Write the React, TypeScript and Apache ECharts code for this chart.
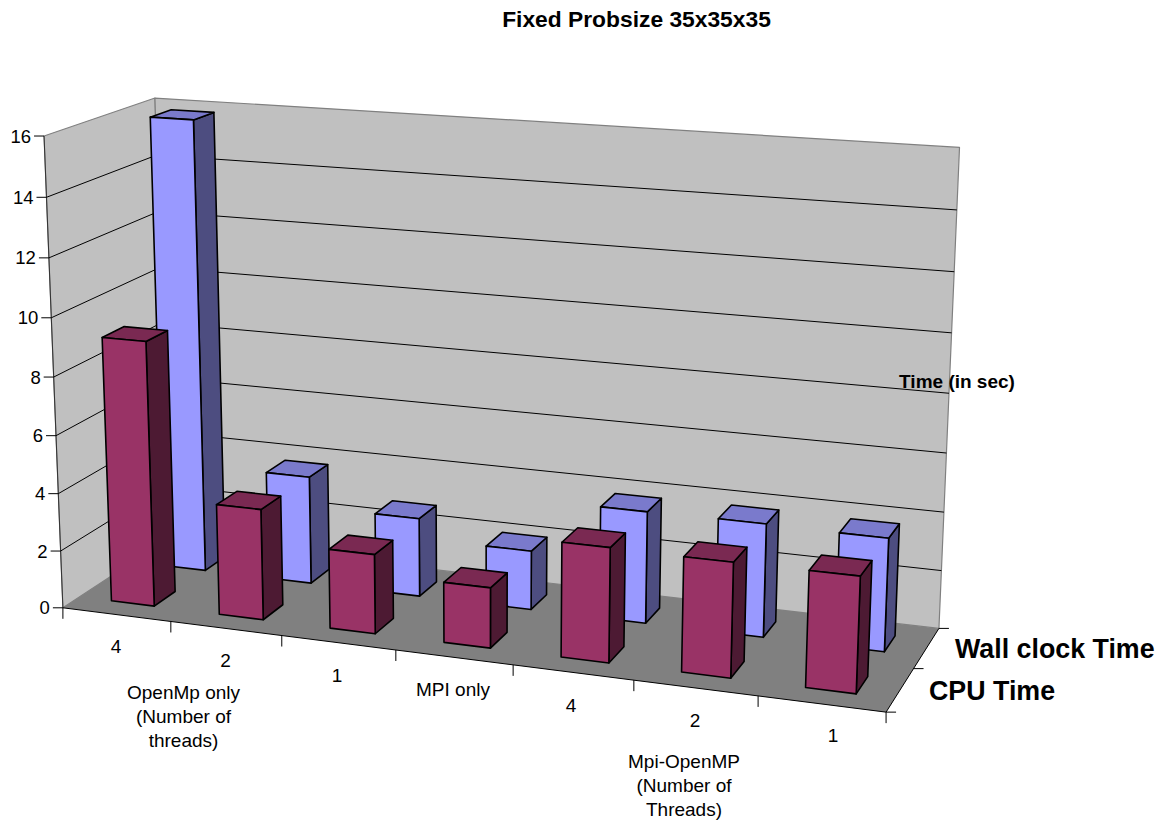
import React, { useEffect, useRef } from "react";
import * as echarts from "echarts";

// Chart content
const categories = ["4", "2", "1", "MPI only", "4", "2", "1"];
const cpuTime = [9.16, 3.82, 2.72, 2.05, 3.85, 3.82, 3.83];
const wallClockTime = [15.85, 3.8, 2.75, 2.05, 3.85, 3.87, 3.83];
const valueTicks = [0, 2, 4, 6, 8, 10, 12, 14, 16];
const titleText = "Fixed Probsize 35x35x35";
const valueAxisTitle = "Time (in sec)";
const seriesNames = ["Wall clock Time", "CPU Time"];
const groupLabels = [
  "OpenMp only\n(Number of\nthreads)",
  "Mpi-OpenMP\n(Number of\nThreads)",
];

// Screen positions of the category captions
const categoryLabelAt = [
  [116, 646],
  [225.5, 660],
  [337, 675],
  [453, 689],
  [571, 705],
  [695, 720],
  [833, 735],
];

const WIDTH = 1162;
const HEIGHT = 821;

// Known corners of the plot box: [x along categories, depth, height] -> screen
const boxCorners: [number, number, number, number, number][] = [
  [0, 0, 0, 63, 607.5],
  [0, 0, 1, 44, 136],
  [0, 1, 1, 155, 98],
  [1, 1, 1, 959.5, 147.5],
  [1, 1, 0, 939, 628],
  [1, 0, 0, 886, 712.5],
  [0, 1, 0, 168, 539],
];

// Least-squares fit of the 3D -> 2D projective camera
function fitCamera() {
  const rows: number[][] = [];
  const rhs: number[] = [];
  for (const [u, v, w, x, y] of boxCorners) {
    rows.push([u, v, w, 1, 0, 0, 0, 0, -x * u, -x * v, -x * w]);
    rhs.push(x);
    rows.push([0, 0, 0, 0, u, v, w, 1, -y * u, -y * v, -y * w]);
    rhs.push(y);
  }
  const n = 11;
  const m: number[][] = [];
  for (let i = 0; i < n; i++) {
    const line = new Array(n + 1).fill(0);
    rows.forEach((r, k) => {
      for (let j = 0; j < n; j++) line[j] += r[i] * r[j];
      line[n] += r[i] * rhs[k];
    });
    m.push(line);
  }
  for (let i = 0; i < n; i++) {
    let p = i;
    for (let k = i + 1; k < n; k++) if (Math.abs(m[k][i]) > Math.abs(m[p][i])) p = k;
    [m[i], m[p]] = [m[p], m[i]];
    for (let k = 0; k < n; k++) {
      if (k === i) continue;
      const f = m[k][i] / m[i][i];
      for (let j = i; j <= n; j++) m[k][j] -= f * m[i][j];
    }
  }
  return m.map((line, i) => line[n] / line[i]);
}

const cam = fitCamera();
function project(u: number, v: number, w: number): [number, number] {
  const d = cam[8] * u + cam[9] * v + cam[10] * w + 1;
  return [
    (cam[0] * u + cam[1] * v + cam[2] * w + cam[3]) / d,
    (cam[4] * u + cam[5] * v + cam[6] * w + cam[7]) / d,
  ];
}

const BLACK = "#000000";
const EDGE_GRAY = "#808080";

function face(points: [number, number][], fill: string, stroke = BLACK, lineWidth = 1.6) {
  return {
    type: "polygon",
    shape: { points },
    style: { fill, stroke, lineWidth, lineJoin: "round" },
  };
}

function segment(a: [number, number], b: [number, number], stroke = BLACK, lineWidth = 1) {
  return {
    type: "line",
    shape: { x1: a[0], y1: a[1], x2: b[0], y2: b[1] },
    style: { stroke, lineWidth },
  };
}

function label(text: string, x: number, y: number, fontSize: number, bold = false, align = "center", lineHeight?: number) {
  return {
    type: "text",
    x,
    y,
    z: 100,
    style: {
      text,
      fontFamily: "Liberation Sans",
      fontSize,
      fontWeight: bold ? "bold" : "normal",
      fill: BLACK,
      align,
      verticalAlign: "middle",
      lineHeight,
    },
  };
}

// Walls, floor and the axis ticks of the two horizontal directions
function renderBox() {
  const children: any[] = [
    face(
      [project(0, 0, 0), project(0, 0, 1), project(0, 1, 1), project(0, 1, 0)],
      "#C0C0C0",
      EDGE_GRAY,
      1.2
    ),
    face(
      [project(0, 1, 0), project(0, 1, 1), project(1, 1, 1), project(1, 1, 0)],
      "#C0C0C0",
      EDGE_GRAY,
      1.2
    ),
    face(
      [project(0, 0, 0), project(0, 1, 0), project(1, 1, 0), project(1, 0, 0)],
      "#808080",
      "none",
      0
    ),
    segment(project(0, 0, 0), project(0, 0, 1), "#333333"),
    segment(project(0, 0, 0), project(1, 0, 0)),
    segment(project(1, 0, 0), project(1, 1, 0)),
  ];
  for (let i = 0; i <= categories.length; i++) {
    const p = project(i / categories.length, 0, 0);
    children.push(segment(p, [p[0], p[1] + 11]));
  }
  for (const v of [0, 0.5, 1]) {
    const p = project(1, v, 0);
    children.push(segment(p, [p[0] + 10, p[1]]));
  }
  return { type: "group", children };
}

export default function App() {
  const ref = useRef<HTMLDivElement>(null);

  useEffect(() => {
    const chart = echarts.init(ref.current!, undefined, { renderer: "svg" });

    const toWeight = (api: any, value: number) => {
      const y = api.coord([0, value])[1];
      return (HEIGHT - y) / HEIGHT;
    };

    const barSeries = (name: string, values: number[], vFrom: number, vTo: number, colors: string[]) => ({
      name,
      type: "custom",
      silent: true,
      data: values.map((value, i) => [i, value]),
      renderItem: (_p: any, api: any) => {
        const c = api.coord([api.value(0), api.value(1)]);
        const half = (api.size([1, 0])[0] * 0.2) / WIDTH;
        const u = c[0] / WIDTH;
        const w = (HEIGHT - c[1]) / HEIGHT;
        const u0 = u - half;
        const u1 = u + half;
        return {
          type: "group",
          children: [
            face([project(u1, vFrom, 0), project(u1, vFrom, w), project(u1, vTo, w), project(u1, vTo, 0)], colors[1]),
            face([project(u0, vFrom, w), project(u0, vTo, w), project(u1, vTo, w), project(u1, vFrom, w)], colors[2]),
            face([project(u0, vFrom, 0), project(u0, vFrom, w), project(u1, vFrom, w), project(u1, vFrom, 0)], colors[0]),
          ],
        };
      },
    });

    chart.setOption({
      animation: false,
      backgroundColor: "#ffffff",
      grid: { left: 0, right: 0, top: 0, bottom: 0 },
      xAxis: { type: "category", data: categories, show: false },
      yAxis: { type: "value", min: 0, max: 16, interval: 2, show: false },
      series: [
        {
          type: "custom",
          silent: true,
          data: [[0, 0]],
          renderItem: () => renderBox(),
        },
        {
          // Gridlines across both walls, with the value ticks and their labels
          type: "custom",
          silent: true,
          data: valueTicks.map((t) => [0, t]),
          renderItem: (_p: any, api: any) => {
            const t = api.value(1);
            const w = toWeight(api, t);
            const front = project(0, 0, w);
            const corner = project(0, 1, w);
            const right = project(1, 1, w);
            const children: any[] = [segment([front[0] - 10, front[1]], front)];
            if (t > 0 && t < 16) {
              children.push(segment(front, corner), segment(corner, right));
            }
            children.push(label(String(t), front[0] - 13, front[1], 18.5, false, "right"));
            return { type: "group", children };
          },
        },
        barSeries(seriesNames[0], wallClockTime, 0.65, 0.85, ["#9999FF", "#4D4D80", "#7A7ACC"]),
        barSeries(seriesNames[1], cpuTime, 0.15, 0.35, ["#993366", "#4D1A33", "#7A2952"]),
      ],
      graphic: [
        label(titleText, 636.5, 19, 22.8, true),
        label(valueAxisTitle, 957, 381, 19, true),
        label(seriesNames[0], 955, 648.5, 26.8, true, "left"),
        label(seriesNames[1], 929, 690.5, 26.8, true, "left"),
        ...categories.map((c, i) => label(c, categoryLabelAt[i][0], categoryLabelAt[i][1], 19)),
        label(groupLabels[0], 183.5, 716, 19, false, "center", 24),
        label(groupLabels[1], 684, 785, 19, false, "center", 24),
      ],
    });

    return () => chart.dispose();
  }, []);

  return (
    <div
      ref={ref}
      style={{ position: "absolute", left: 0, top: 0, width: WIDTH, height: HEIGHT }}
    />
  );
}
